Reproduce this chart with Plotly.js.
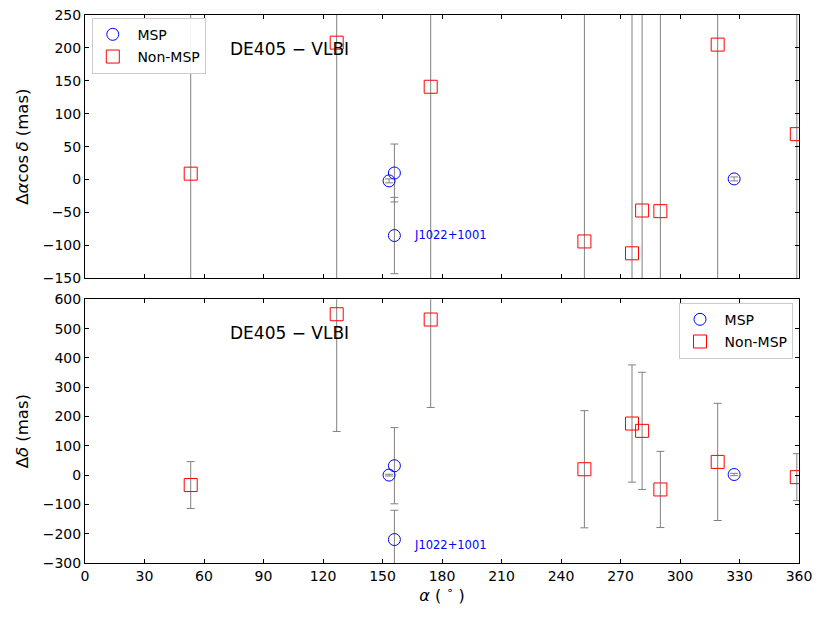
<!DOCTYPE html>
<html>
<head>
<meta charset="utf-8">
<script src="https://cdn.plot.ly/plotly-3.0.1.min.js"></script>
<style>html,body{margin:0;padding:0;background:#fff;}#chart{width:830px;height:623px;}</style>
</head>
<body>
<div id="chart"></div>
<script>
// ---- data ----
const mspRA        = [153.3, 156.0, 156.0, 327.3];
const mspDRA       = [-2, 10, -85, 1];
const mspDRAerr    = [3, 44, 58, 3];
const mspDDec      = [0, 32, -220, 2];
const mspDDecErr   = [3, 130, 100, 4];

const nonRA        = [53.3, 126.9, 174.3, 251.8, 275.8, 280.9, 290.1, 319.0, 358.9];
const nonDRA       = [9, 208, 141, -94, -112, -47, -48, 205, 69];
const nonDRAerr    = [400, 450, 400, 400, 400, 400, 400, 450, 400];
const nonDDec      = [-34, 549, 531, 20, 176, 151, -49, 45, -7];
const nonDDecErr   = [80, 400, 300, 200, 200, 200, 130, 200, 80];

const xTicks       = [0, 30, 60, 90, 120, 150, 180, 210, 240, 270, 300, 330, 360];
const yTicksTop    = [-150, -100, -50, 0, 50, 100, 150, 200, 250];
const yTicksBot    = [-300, -200, -100, 0, 100, 200, 300, 400, 500, 600];

const seriesNames  = ["MSP", "Non-MSP"];
const labelName    = "J1022+1001";
const labelRA      = 165;
const labelTopY    = -84;
const labelBotY    = -239;
const panelText    = "DE405 \u2212 VLBI";

// ---- styling ----
const FONT = "DejaVu Sans, Liberation Sans, sans-serif";
const errStyle = {type: "data", visible: true, color: "#808080", thickness: 1, width: 4};
const mspMarker = {symbol: "circle-open", size: 12, color: "#0000ff", line: {width: 1, color: "#0000ff"}};
const nonMarker = {symbol: "square-open", size: 13, color: "#ff0000", line: {width: 1, color: "#ff0000"}};
const pad = "\u2004";

const traces = [
  {x: mspRA, y: mspDRA, error_y: Object.assign({array: mspDRAerr}, errStyle),
   mode: "markers", type: "scatter", name: pad + seriesNames[0], marker: mspMarker, xaxis: "x", yaxis: "y",
   legend: "legend", legendgroup: "a"},
  {x: nonRA, y: nonDRA, error_y: Object.assign({array: nonDRAerr}, errStyle),
   mode: "markers", type: "scatter", name: pad + seriesNames[1], marker: nonMarker, xaxis: "x", yaxis: "y",
   legend: "legend", legendgroup: "b"},
  {x: mspRA, y: mspDDec, error_y: Object.assign({array: mspDDecErr}, errStyle),
   mode: "markers", type: "scatter", name: pad + seriesNames[0], marker: mspMarker, xaxis: "x2", yaxis: "y2",
   legend: "legend2", legendgroup: "c"},
  {x: nonRA, y: nonDDec, error_y: Object.assign({array: nonDDecErr}, errStyle),
   mode: "markers", type: "scatter", name: pad + seriesNames[1], marker: nonMarker, xaxis: "x2", yaxis: "y2",
   legend: "legend2", legendgroup: "d"}
];

const axisCommon = {
  showline: true, linecolor: "#000", linewidth: 1, mirror: "ticks",
  ticks: "inside", ticklen: 4, tickwidth: 1, tickcolor: "#000",
  showgrid: false, zeroline: false,
  tickfont: {family: FONT, size: 14, color: "#000"}
};

const legendCommon = {
  bgcolor: "rgba(255,255,255,0.9)", bordercolor: "#cccccc", borderwidth: 1,
  font: {family: FONT, size: 14}, tracegroupgap: 1
};

const layout = {
  width: 830, height: 623,
  margin: {l: 85, r: 31, t: 15, b: 60},
  paper_bgcolor: "#fff", plot_bgcolor: "#fff",
  font: {family: FONT, color: "#000"},
  xaxis: Object.assign({}, axisCommon, {domain: [0, 1], anchor: "y", range: [0, 360],
    tickvals: xTicks, showticklabels: false}),
  yaxis: Object.assign({}, axisCommon, {domain: [0.5195, 1], anchor: "x", range: [-150, 250],
    tickvals: yTicksTop,
    title: {text: "\u0394<i>\u03b1</i>cos\u2009<i>\u03b4</i> (mas)", font: {family: FONT, size: 16.5}, standoff: 9}}),
  xaxis2: Object.assign({}, axisCommon, {domain: [0, 1], anchor: "y2", range: [0, 360],
    tickvals: xTicks,
    title: {text: "<i>\u03b1</i> ( <sup>\u2218</sup> )", font: {family: FONT, size: 16}, standoff: 3}}),
  yaxis2: Object.assign({}, axisCommon, {domain: [0, 0.4812], anchor: "x2", range: [-300, 600],
    tickvals: yTicksBot,
    title: {text: "\u0394<i>\u03b4</i> (mas)", font: {family: FONT, size: 16.5}, standoff: 9}}),
  legend: Object.assign({}, legendCommon, {x: 0.0095, y: 0.995, xanchor: "left", yanchor: "top"}),
  legend2: Object.assign({}, legendCommon, {x: 0.9916, y: 0.475, xanchor: "right", yanchor: "top"}),
  annotations: [
    {x: 72, y: 198, xref: "x", yref: "y", text: panelText, showarrow: false, xanchor: "left", yanchor: "middle",
     font: {family: FONT, size: 17, color: "#000"}},
    {x: 72, y: 485, xref: "x2", yref: "y2", text: panelText, showarrow: false, xanchor: "left", yanchor: "middle",
     font: {family: FONT, size: 17, color: "#000"}},
    {x: labelRA, y: labelTopY, xref: "x", yref: "y", text: labelName, showarrow: false, xanchor: "left", yanchor: "middle",
     font: {family: FONT, size: 11.5, color: "#0000ff"}},
    {x: labelRA, y: labelBotY, xref: "x2", yref: "y2", text: labelName, showarrow: false, xanchor: "left", yanchor: "middle",
     font: {family: FONT, size: 11.5, color: "#0000ff"}}
  ],
  showlegend: true
};

Plotly.newPlot("chart", traces, layout, {displayModeBar: false, staticPlot: true});
</script>
</body>
</html>
